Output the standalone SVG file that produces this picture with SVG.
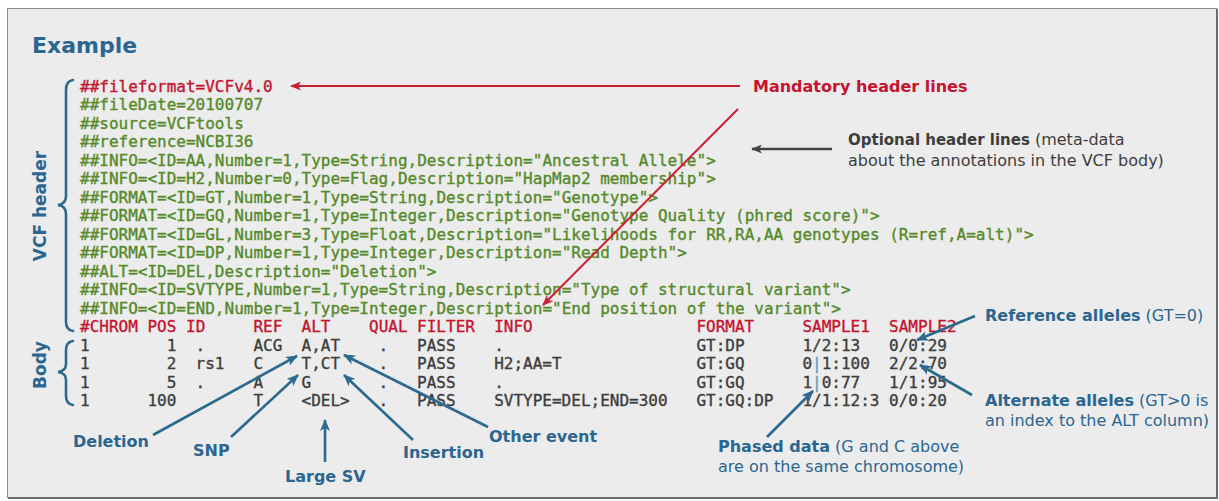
<svg xmlns="http://www.w3.org/2000/svg" width="1219" height="501" viewBox="0 0 1219 501">
  <defs>
    <style>
      .code { font-family: "DejaVu Sans Mono", "Liberation Mono", monospace; font-size: 16px; stroke-width: 0.35px; }
      .hdr { fill: #558a2a; stroke: #558a2a; }
      .req { fill: #c4142f; stroke: #c4142f; }
      .row { fill: #3d3d3d; stroke: #3d3d3d; }
      .pipe { fill: #6a9cc4; stroke: #6a9cc4; }
      .lbl { font-family: "DejaVu Sans", Verdana, sans-serif; font-size: 16px; }
      .b { font-weight: bold; }
      .blue { fill: #2b6690; }
      .red { fill: #c4142f; }
      .grey { fill: #3d3d3d; }
      .title { font-size: 22px; }
      .side { font-size: 17px; }
      .opt { font-size: 15px; }
      .arr-blue { stroke: #2b6a8e; stroke-width: 2.6; fill: none; marker-end: url(#headBlue); }
      .arr-red { stroke: #cc1f33; stroke-width: 2; fill: none; marker-end: url(#headRed); }
      .arr-grey { stroke: #444; stroke-width: 2.4; fill: none; marker-end: url(#headGrey); }
      .brace { stroke: #2b6a8e; stroke-width: 2.6; fill: none; stroke-linecap: round; }
    </style>
    <marker id="headBlue" viewBox="0 0 12 10" refX="11" refY="5" markerWidth="12" markerHeight="10" markerUnits="userSpaceOnUse" orient="auto">
      <path d="M0,0 L12,5 L0,10 L3,5 z" fill="#2b6a8e"/>
    </marker>
    <marker id="headRed" viewBox="0 0 12 10" refX="11" refY="5" markerWidth="12" markerHeight="9" markerUnits="userSpaceOnUse" orient="auto">
      <path d="M0,0 L12,5 L0,10 L3,5 z" fill="#cc1f33"/>
    </marker>
    <marker id="headGrey" viewBox="0 0 12 10" refX="11" refY="5" markerWidth="12" markerHeight="9" markerUnits="userSpaceOnUse" orient="auto">
      <path d="M0,0 L12,5 L0,10 L3,5 z" fill="#444"/>
    </marker>
  </defs>

  <rect x="0" y="0" width="1219" height="501" fill="#ffffff"/>
  <!-- panel -->
  <rect id="panel" x="7.5" y="8.5" width="1209" height="489" fill="#ececec" stroke="#8c8c8c" stroke-width="1"/>
  <path d="M1217,9 V498 H8" stroke="#6e6e6e" stroke-width="2" fill="none"/>

  <text id="title" class="lbl b blue title" x="32" y="53">Example</text>

  <!-- section braces and labels -->
  <g id="vcf-header">
    <path class="brace" d="M73,80 Q66,81 66,90 V196 Q66,204 58,205 Q66,206 66,214 V322 Q66,330 73,331"/>
    <text class="lbl b blue side" transform="translate(46,206) rotate(-90)" text-anchor="middle">VCF header</text>
  </g>
  <g id="body">
    <path class="brace" d="M73,341 Q66,342 66,350 V364 Q66,371 58,372 Q66,373 66,380 V396 Q66,404 73,405"/>
    <text class="lbl b blue side" transform="translate(46,365) rotate(-90)" text-anchor="middle">Body</text>
  </g>

  <!-- meta-information lines -->
  <g id="meta-lines" class="code">
    <text class="req" x="80" y="91.5">##fileformat=VCFv4.0</text>
    <text class="hdr" x="80" y="110">##fileDate=20100707</text>
    <text class="hdr" x="80" y="128.5">##source=VCFtools</text>
    <text class="hdr" x="80" y="147">##reference=NCBI36</text>
    <text class="hdr" x="80" y="165.5">##INFO=&lt;ID=AA,Number=1,Type=String,Description="Ancestral Allele"&gt;</text>
    <text class="hdr" x="80" y="184">##INFO=&lt;ID=H2,Number=0,Type=Flag,Description="HapMap2 membership"&gt;</text>
    <text class="hdr" x="80" y="202.5">##FORMAT=&lt;ID=GT,Number=1,Type=String,Description="Genotype"&gt;</text>
    <text class="hdr" x="80" y="221">##FORMAT=&lt;ID=GQ,Number=1,Type=Integer,Description="Genotype Quality (phred score)"&gt;</text>
    <text class="hdr" x="80" y="239.5">##FORMAT=&lt;ID=GL,Number=3,Type=Float,Description="Likelihoods for RR,RA,AA genotypes (R=ref,A=alt)"&gt;</text>
    <text class="hdr" x="80" y="258">##FORMAT=&lt;ID=DP,Number=1,Type=Integer,Description="Read Depth"&gt;</text>
    <text class="hdr" x="80" y="276.5">##ALT=&lt;ID=DEL,Description="Deletion"&gt;</text>
    <text class="hdr" x="80" y="295">##INFO=&lt;ID=SVTYPE,Number=1,Type=String,Description="Type of structural variant"&gt;</text>
    <text class="hdr" x="80" y="313.5">##INFO=&lt;ID=END,Number=1,Type=Integer,Description="End position of the variant"&gt;</text>
  </g>

  <!-- column header and data records -->
  <g id="records" class="code">
    <text class="req" y="332"><tspan x="80">#CHROM</tspan><tspan x="147.4">POS</tspan><tspan x="186">ID</tspan><tspan x="253.4">REF</tspan><tspan x="301.5">ALT</tspan><tspan x="369">QUAL</tspan><tspan x="417.1">FILTER</tspan><tspan x="494.2">INFO</tspan><tspan x="696.4">FORMAT</tspan><tspan x="802.4">SAMPLE1</tspan><tspan x="889.1">SAMPLE2</tspan></text>
    <text class="row" y="350.5"><tspan x="80">1</tspan><tspan x="166.7">1</tspan><tspan x="195.6">.</tspan><tspan x="253.4">ACG</tspan><tspan x="301.5">A,AT</tspan><tspan x="378.6">.</tspan><tspan x="417.1">PASS</tspan><tspan x="494.2">.</tspan><tspan x="696.4">GT:DP</tspan><tspan x="802.4">1/2:13</tspan><tspan x="889.1">0/0:29</tspan></text>
    <text class="row" y="369"><tspan x="80">1</tspan><tspan x="166.7">2</tspan><tspan x="195.6">rs1</tspan><tspan x="253.4">C</tspan><tspan x="301.5">T,CT</tspan><tspan x="378.6">.</tspan><tspan x="417.1">PASS</tspan><tspan x="494.2">H2;AA=T</tspan><tspan x="696.4">GT:GQ</tspan><tspan x="802.4">0</tspan><tspan class="pipe">|</tspan><tspan>1:100</tspan><tspan x="889.1">2/2:70</tspan></text>
    <text class="row" y="387.5"><tspan x="80">1</tspan><tspan x="166.7">5</tspan><tspan x="195.6">.</tspan><tspan x="253.4">A</tspan><tspan x="301.5">G</tspan><tspan x="378.6">.</tspan><tspan x="417.1">PASS</tspan><tspan x="494.2">.</tspan><tspan x="696.4">GT:GQ</tspan><tspan x="802.4">1</tspan><tspan class="pipe">|</tspan><tspan>0:77</tspan><tspan x="889.1">1/1:95</tspan></text>
    <text class="row" y="406"><tspan x="80">1</tspan><tspan x="147.4">100</tspan><tspan x="253.4">T</tspan><tspan x="301.5">&lt;DEL&gt;</tspan><tspan x="378.6">.</tspan><tspan x="417.1">PASS</tspan><tspan x="494.2">SVTYPE=DEL;END=300</tspan><tspan x="696.4">GT:GQ:DP</tspan><tspan x="802.4">1/1:12:3</tspan><tspan x="889.1">0/0:20</tspan></text>
  </g>

  <!-- annotation labels -->
  <g id="mandatory-label">
    <text class="lbl b red" x="753" y="92">Mandatory header lines</text>
  </g>
  <g id="optional-label">
    <text class="lbl grey" x="848" y="145"><tspan class="b opt">Optional header lines</tspan> (meta-data</text>
    <text class="lbl grey" x="848" y="166">about the annotations in the VCF body)</text>
  </g>
  <g id="reference-label">
    <text class="lbl blue" x="985" y="321"><tspan class="b">Reference alleles</tspan> (GT=0)</text>
  </g>
  <g id="alternate-label">
    <text class="lbl blue" x="985" y="406"><tspan class="b">Alternate alleles</tspan> (GT&gt;0 is</text>
    <text class="lbl blue" x="985" y="426">an index to the ALT column)</text>
  </g>
  <g id="phased-label">
    <text class="lbl blue" x="718" y="452"><tspan class="b">Phased data</tspan> (G and C above</text>
    <text class="lbl blue" x="718" y="472">are on the same chromosome)</text>
  </g>
  <g id="deletion-label"><text class="lbl b blue" x="73" y="447">Deletion</text></g>
  <g id="snp-label"><text class="lbl b blue" x="193" y="456">SNP</text></g>
  <g id="largesv-label"><text class="lbl b blue" x="285" y="482">Large SV</text></g>
  <g id="insertion-label"><text class="lbl b blue" x="403" y="458">Insertion</text></g>
  <g id="other-label"><text class="lbl b blue" x="489" y="442">Other event</text></g>

  <!-- connectors -->
  <g id="connectors">
    <line class="arr-red" x1="740" y1="86" x2="291" y2="86"/>
    <line class="arr-red" x1="738" y1="109" x2="543" y2="305"/>
    <line class="arr-grey" x1="832" y1="149" x2="752" y2="149"/>
    <line class="arr-blue" x1="153" y1="435" x2="297" y2="356"/>
    <line class="arr-blue" x1="231" y1="437" x2="298" y2="375"/>
    <line class="arr-blue" x1="325" y1="462" x2="325" y2="420"/>
    <line class="arr-blue" x1="413" y1="440" x2="344" y2="375"/>
    <line class="arr-blue" x1="488" y1="427" x2="344" y2="355"/>
    <line class="arr-blue" x1="767" y1="437" x2="813" y2="391"/>
    <line class="arr-blue" x1="975" y1="316" x2="917" y2="340"/>
    <line class="arr-blue" x1="972" y1="395" x2="920" y2="365"/>
  </g>
</svg>
